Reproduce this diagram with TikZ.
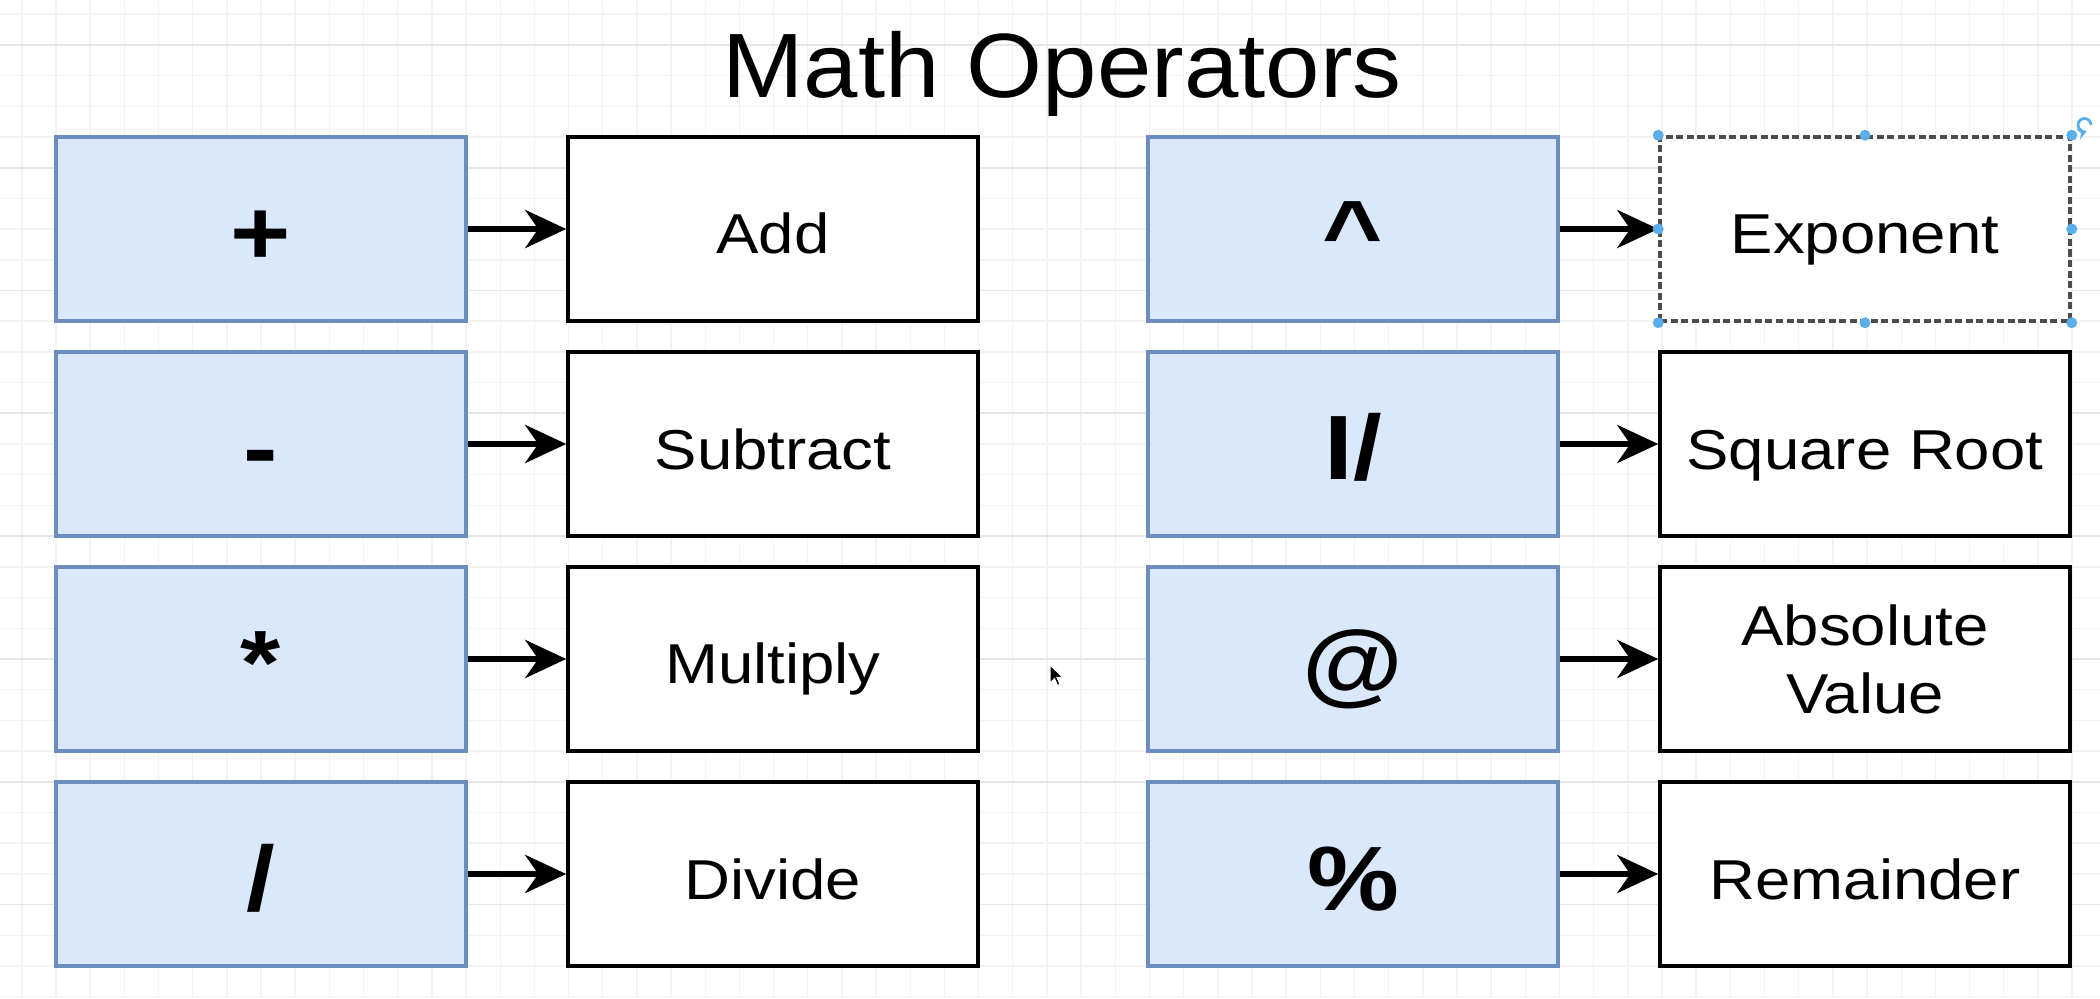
\documentclass[tikz,border=0pt]{standalone}
\usepackage{fontspec}
\setmainfont{Liberation Sans}
\usepackage{graphicx}
\usetikzlibrary{arrows.meta}
\usetikzlibrary{shapes}

\definecolor{opfill}{HTML}{DAE8FC}
\definecolor{opline}{HTML}{6C8EBF}
\definecolor{gridminor}{HTML}{F3F3F3}
\definecolor{gridmajor}{HTML}{E6E6E6}
\definecolor{handle}{HTML}{5AAEEA}

\newcommand{\wide}[1]{\scalebox{1.13}[1]{#1}}

\begin{document}
\begin{tikzpicture}[
    opbox/.style={rectangle, fill=opfill, draw=opline, line width=0.9pt, minimum width=4.1cm, minimum height=1.84cm, inner sep=0pt, text height=0.92cm, text depth=0.2cm, font=\fontsize{26}{30}\selectfont\bfseries},
    namebox/.style={rectangle, fill=white, draw=black, line width=1pt, minimum width=4.1cm, minimum height=1.84cm, inner sep=0pt, text height=0.6cm, text depth=0.1cm, align=center, font=\fontsize{16}{19.4}\selectfont},
    selected/.style={draw=black!70, dash pattern=on 2pt off 1pt},
    link/.style={-{Stealth[length=4.1mm, width=3.8mm, inset=1.3mm]}, line width=1.7pt},
    dot/.style={circle, fill=handle, inner sep=0pt, minimum size=1.1mm}
]

    \useasboundingbox[fill=white] (0,0) rectangle (21,9.98);

    %===========================
    % Grid
    %===========================

    \foreach \k in {-1,...,59}
        \draw[gridminor, line width=0.4pt] (0.56+\k*0.3417, 0) -- (0.56+\k*0.3417, 9.98);
    \foreach \k in {-4,...,28}
        \draw[gridminor, line width=0.4pt] (0, 8.61-\k*0.307) -- (21, 8.61-\k*0.307);
    \foreach \k in {-3,1,...,25}
        \draw[gridmajor, line width=0.5pt] (0, 8.61-\k*0.307) -- (21, 8.61-\k*0.307);

    %===========================
    % Title
    %===========================

    \node (T) at (10.62, 9.0) [anchor=base, font=\fontsize{26}{30}\selectfont] {\scalebox{1.07}[1]{Math Operators}};

    %===========================
    % Operators
    %===========================

    % Left Side
    \node (S1) at (2.61, 7.69) [opbox] {\wide{+}};
    \node (N1) at (7.73, 7.69) [namebox] {\wide{Add}};
    \draw[link] (S1) to (N1);

    \node (S2) at (2.61, 5.54) [opbox] {\wide{-}};
    \node (N2) at (7.73, 5.54) [namebox] {\wide{Subtract}};
    \draw[link] (S2) to (N2);

    \node (S3) at (2.61, 3.39) [opbox] {\wide{*}};
    \node (N3) at (7.73, 3.39) [namebox] {\wide{Multiply}};
    \draw[link] (S3) to (N3);

    \node (S4) at (2.61, 1.24) [opbox] {\wide{/}};
    \node (N4) at (7.73, 1.24) [namebox] {\wide{Divide}};
    \draw[link] (S4) to (N4);

    % Right Side
    \node (S5) at (13.53, 7.69) [opbox] {\wide{\^{}}};
    \node (N5) at (18.65, 7.69) [namebox, selected] {\wide{Exponent}};
    \draw[link] (S5) to (N5);

    \node (S6) at (13.53, 5.54) [opbox] {\wide{I/}};
    \node (N6) at (18.65, 5.54) [namebox] {\wide{Square Root}};
    \draw[link] (S6) to (N6);

    \node (S7) at (13.53, 3.39) [opbox] {\wide{@}};
    \node (N7) at (18.65, 3.39) [namebox, text height={}, text depth={}] {\wide{Absolute}\\\wide{Value}};
    \draw[link] (S7) to (N7);

    \node (S8) at (13.53, 1.24) [opbox] {\wide{\%}};
    \node (N8) at (18.65, 1.24) [namebox] {\wide{Remainder}};
    \draw[link] (S8) to (N8);

    %===========================
    % Selection handles
    %===========================

    \foreach \a in {north west, north, north east, east, south east, south, south west, west}
        \node[dot] at (N5.\a) {};
    \draw[handle, line width=0.8pt, -{Stealth[length=0.9mm, width=1.1mm]}] (20.91, 8.73) arc (0:290:0.065);

    % mouse pointer
    \draw[fill=black, draw=white, line width=0.3pt] (10.50, 3.33) -- (10.50, 3.15) -- (10.545, 3.195)
        -- (10.575, 3.125) -- (10.60, 3.137) -- (10.57, 3.205) -- (10.63, 3.205) -- cycle;
\end{tikzpicture}
\end{document}
